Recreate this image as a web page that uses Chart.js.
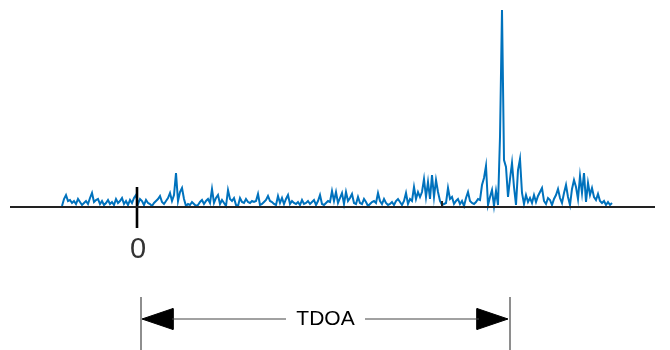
<!DOCTYPE html>
<html>
<head>
<meta charset="utf-8">
<script src="https://cdn.jsdelivr.net/npm/chart.js@4.4.1/dist/chart.umd.min.js"></script>
<style>
  html, body { margin: 0; padding: 0; background: #fff; }
  #wrap { width: 670px; height: 350px; position: relative; }
</style>
</head>
<body>
<div id="wrap"><canvas id="chart"></canvas></div>
<script>
// Datos: correlación cruzada (amplitud sobre la línea base)
const signalStart = 62;
const signalStep = 2;
const signal = [
  1, 8, 12, 6, 7, 4, 6, 3, 8, 5, 2, 4, 6, 3, 9, 14, 5, 7, 8, 3,
  6, 2, 4, 7, 3, 5, 2, 8, 4, 6, 9, 3, 6, 2, 7, 4, 9, 12, 3, 8,
  6, 2, 7, 4, 3, 1, 4, 6, 8, 11, 5, 3, 6, 9, 14, 6, 12, 34, 6, 15,
  19, 8, 1, 3, 2, 5, 3, 1, 2, 5, 7, 3, 6, 8, 4, 18, 4, 9, 12, 3,
  7, 4, 1, 17, 8,
  6, 9, 2, 1, 9, 5, 4, 8, 5, 4, 6, 5, 6, 13, 2, 3, 5, 7, 11, 6,
  5, 3, 2, 11, 4, 9, 3, 8, 12, 3, 6, 4, 3, 5, 2, 7, 3, 4, 6, 3,
  5, 7, 2, 6, 12, 3, 2, 4, 6, 5, 16, 6, 15, 4, 9, 14, 3, 15, 6, 9,
  13, 4, 3, 10, 4, 3, 8, 5, 1, 3, 5, 6, 4, 14, 6, 3, 8, 4, 2, 3,
  5, 2, 6, 8, 5,
  2, 6, 14, 3, 8, 6, 20, 8, 15, 10, 15, 28, 10, 25, 8, 32, 10, 27, 15, 6,
  2, 3, 4, 19, 8, 10, 3, 6, 8, 3, 6, 1, 9, 15, 6, 4, 3, 5, 8, 7,
  22, 29, 41, 2, 10, 17, 1, 16, 2, 70, 197, 47, 40, 10, 28, 44, 20, 2, 37, 48,
  14, 3, 12, 5, 9, 4, 12, 5, 11, 15, 19, 6, 3, 9, 7, 2, 8, 12, 18, 9,
  4, 14, 22, 10, 2, 18, 27, 20, 8, 31, 14, 34, 5, 24, 12, 19, 10, 7, 13, 6,
  4, 6, 2, 5, 2, 4
];

// Ejes y anotaciones (en unidades de datos)
const axisFrom = 10, axisTo = 655;
const zeroAt = 137, zeroLabel = '0';
const markAt = 442;
const tdoaFrom = 141, tdoaTo = 510, tdoaLabel = 'TDOA';
const tdoaLevel = -112, tdoaGap = [286, 365];

const signalPoints = signal.map((v, i) => ({ x: signalStart + i * signalStep, y: v }));

const seg = (pts, color, width) => ({
  data: pts, borderColor: color, borderWidth: width,
  pointRadius: 0, fill: false, tension: 0
});
const arrowHead = (tip, base) => ({
  data: [{ x: tip, y: tdoaLevel }, { x: base, y: tdoaLevel + 10.5 }, { x: base, y: tdoaLevel - 10.5 }, { x: tip, y: tdoaLevel }],
  borderColor: '#000', backgroundColor: '#000', borderWidth: 1,
  pointRadius: 0, fill: 'shape', tension: 0
});

const labels = {
  id: 'labels',
  afterDraw(chart) {
    const { ctx, scales: { x, y } } = chart;
    ctx.save();
    ctx.textAlign = 'center';
    ctx.textBaseline = 'middle';
    ctx.fillStyle = '#333';
    ctx.font = '29px "Liberation Sans", Arial, sans-serif';
    ctx.fillText(zeroLabel, x.getPixelForValue(zeroAt + 1), y.getPixelForValue(-43));
    ctx.fillStyle = '#000';
    ctx.font = '21px "Liberation Sans", Arial, sans-serif';
    ctx.fillText(tdoaLabel, x.getPixelForValue((tdoaGap[0] + tdoaGap[1]) / 2), y.getPixelForValue(tdoaLevel - 0.5));
    ctx.restore();
  }
};

new Chart(document.getElementById('chart'), {
  type: 'line',
  data: {
    datasets: [
      seg([{ x: axisFrom, y: 0 }, { x: axisTo, y: 0 }], '#222', 2),
      seg([{ x: zeroAt, y: 20 }, { x: zeroAt, y: -21 }], '#000', 2.6),
      seg([{ x: markAt, y: 6 }, { x: markAt, y: 0 }], '#222', 2),
      seg(signalPoints, '#0072BD', 2),
      seg([{ x: tdoaFrom, y: -90 }, { x: tdoaFrom, y: -145 }], '#444', 1.2),
      seg([{ x: tdoaTo, y: -90 }, { x: tdoaTo, y: -145 }], '#444', 1.2),
      seg([{ x: tdoaFrom + 31, y: tdoaLevel }, { x: tdoaGap[0], y: tdoaLevel }], '#444', 1.2),
      seg([{ x: tdoaGap[1], y: tdoaLevel }, { x: tdoaTo - 31, y: tdoaLevel }], '#444', 1.2),
      arrowHead(tdoaFrom + 1, tdoaFrom + 32),
      arrowHead(tdoaTo - 2, tdoaTo - 33)
    ]
  },
  options: {
    responsive: true,
    maintainAspectRatio: false,
    animation: false,
    layout: { padding: 0 },
    plugins: { legend: { display: false }, tooltip: { enabled: false } },
    scales: {
      x: { type: 'linear', min: 0, max: 670, display: false },
      y: { type: 'linear', min: -143, max: 207, display: false }
    }
  },
  plugins: [labels]
});
</script>
</body>
</html>
